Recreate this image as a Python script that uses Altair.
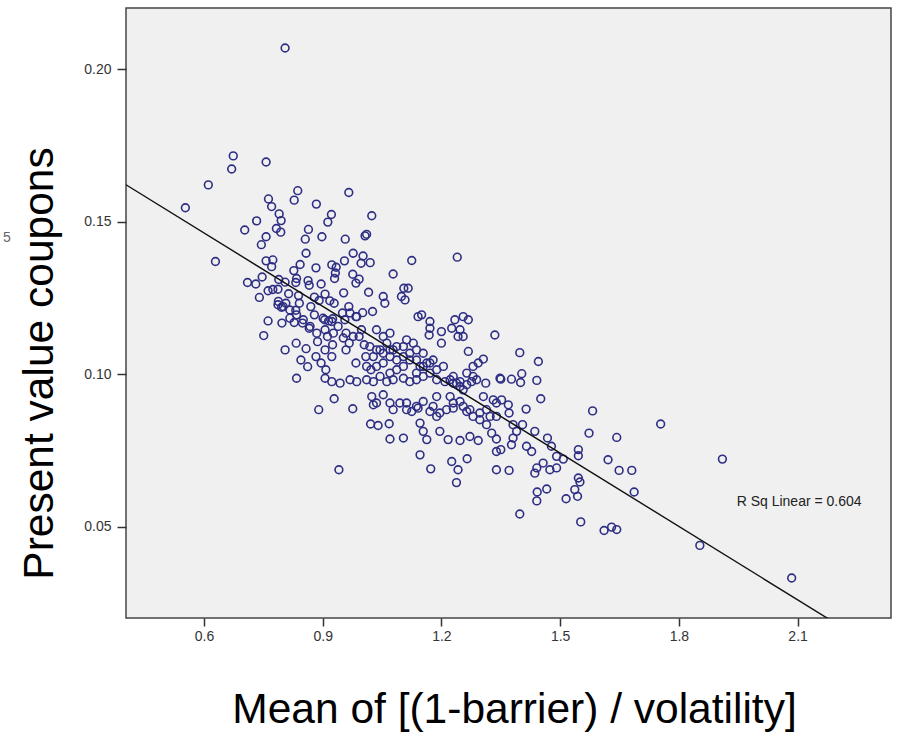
import altair as alt
import pandas as pd

# Values (x = mean of (1-barrier)/volatility, y = present value coupons)
x_vals = [
    0.805, 0.674, 0.670, 0.757, 0.611, 0.553, 0.837, 0.828, 0.763, 0.771,
    0.966, 0.884, 0.790, 0.795, 0.922, 0.913, 1.024, 0.733, 0.703, 0.783,
    0.794, 0.864, 0.856, 0.898, 0.757, 0.745, 0.957, 1.007, 1.011, 0.858,
    0.629, 0.757, 0.774, 0.771, 0.827, 0.843, 0.883, 0.923, 0.934, 0.955,
    0.977, 1.002, 0.997, 1.020, 0.747, 0.710, 0.731, 0.762, 0.774, 0.787,
    0.740, 0.789, 0.805, 0.834, 0.832, 0.863, 0.866, 0.814, 0.839, 0.896,
    0.930, 0.932, 0.976, 0.992, 0.984, 0.953, 1.016, 0.879, 0.891, 0.906,
    0.918, 0.929, 0.787, 0.796, 0.807, 0.832, 0.841, 0.870, 0.879, 0.905,
    0.915, 0.925, 0.966, 0.950, 0.984, 1.001, 1.026, 0.762, 0.751, 0.797,
    0.817, 0.828, 0.849, 0.866, 0.833, 0.858, 0.805, 0.887, 0.912, 0.925,
    0.959, 0.967, 0.992, 1.005, 0.845, 0.862, 0.883, 0.896, 0.908, 0.959,
    0.984, 1.009, 1.022, 0.834,
    1.125, 1.240, 1.078, 1.105, 1.116, 1.099, 1.108, 1.053, 1.057, 1.141,
    1.150, 1.171, 1.171, 1.169, 1.200, 1.200, 1.226, 1.234, 1.255, 1.268,
    1.247, 1.255, 1.242, 1.335, 1.268, 1.306, 1.293, 1.280, 1.312, 1.348,
    1.230, 1.238, 1.247, 1.222, 1.209, 1.255, 1.264, 1.276, 1.289,
    1.036, 1.053, 1.070, 1.062, 1.078, 1.045, 1.028, 1.011, 1.036, 1.053,
    1.070, 1.087, 1.104, 1.112, 1.129, 1.137, 1.154, 1.120, 1.104, 1.087,
    1.070, 1.045, 1.028, 1.011, 1.062, 1.078, 1.104, 1.120, 1.137, 1.154,
    1.171, 1.188, 1.205, 1.179, 1.163, 1.146, 1.137,
    0.890, 0.929, 0.976, 0.941, 1.024, 1.036, 1.053, 1.070, 1.078, 1.021,
    1.040, 1.068, 1.070, 1.104, 1.112, 1.137, 1.154, 1.146, 1.154, 1.163,
    1.196, 1.217, 1.146, 1.173, 1.226, 1.242, 1.238, 1.265, 1.247, 1.272,
    1.293, 1.179, 1.196, 1.213, 1.230, 1.255, 1.272, 1.297, 1.323, 1.339,
    1.306, 1.188, 1.222, 1.339, 1.339,
    0.906, 0.923, 0.906, 0.923, 0.944, 0.969, 0.986,
    1.398, 1.445, 1.441, 1.451, 1.414, 1.350, 1.377, 1.403, 1.400, 1.352,
    1.369, 1.371, 1.339, 1.314, 1.327, 1.339, 1.381, 1.390, 1.381, 1.377,
    1.405, 1.436, 1.415, 1.428, 1.468, 1.478, 1.491, 1.508, 1.457, 1.441,
    1.436, 1.474, 1.491, 1.546, 1.546, 1.573, 1.582, 1.643, 1.621, 1.649,
    1.681, 1.687, 1.546, 1.550, 1.537, 1.544, 1.515, 1.466, 1.442, 1.441,
    1.398, 1.552, 1.611, 1.630, 1.643, 1.350, 1.371,
    1.028, 1.095, 1.112, 1.125, 1.141, 1.171, 1.188, 1.230, 1.247, 1.264,
    1.280, 1.297, 1.314, 1.331,
    1.754, 1.910, 1.853, 2.085,
    0.901, 0.923, 0.939, 0.956, 0.969, 0.986, 0.998, 0.977, 0.952, 0.927,
    0.906, 0.885, 0.868, 0.851, 0.834, 0.817, 0.800, 0.788,
    1.019, 1.036, 1.053, 1.070, 1.087, 1.104, 1.120, 1.137, 1.154, 1.171,
    1.188, 1.230, 1.247, 1.264, 1.280,
]
y_vals = [
    0.2069, 0.1715, 0.1672, 0.1695, 0.1620, 0.1545, 0.1601, 0.1570, 0.1574, 0.1549,
    0.1595, 0.1557, 0.1525, 0.1503, 0.1523, 0.1498, 0.1519, 0.1502, 0.1472, 0.1477,
    0.1465, 0.1474, 0.1442, 0.1450, 0.1450, 0.1424, 0.1442, 0.1453, 0.1458, 0.1396,
    0.1369, 0.1371, 0.1374, 0.1352, 0.1339, 0.1359, 0.1348, 0.1358, 0.1350, 0.1371,
    0.1396, 0.1387, 0.1363, 0.1365, 0.1318, 0.1300, 0.1295, 0.1273, 0.1277, 0.1278,
    0.1251, 0.1310, 0.1301, 0.1313, 0.1300, 0.1306, 0.1291, 0.1263, 0.1257, 0.1295,
    0.1313, 0.1331, 0.1327, 0.1311, 0.1298, 0.1266, 0.1268, 0.1252, 0.1241, 0.1262,
    0.1240, 0.1232, 0.1227, 0.1219, 0.1232, 0.1209, 0.1232, 0.1221, 0.1194, 0.1178,
    0.1174, 0.1181, 0.1221, 0.1200, 0.1188, 0.1201, 0.1205, 0.1174, 0.1126, 0.1167,
    0.1183, 0.1169, 0.1167, 0.1150, 0.1101, 0.1083, 0.1079, 0.1106, 0.1123, 0.1096,
    0.1134, 0.1101, 0.1123, 0.1096, 0.1046, 0.1024, 0.1057, 0.1036, 0.1014, 0.1079,
    0.1036, 0.1057, 0.1014, 0.0986,
    0.1372, 0.1383, 0.1328, 0.1281, 0.1281, 0.1254, 0.1243, 0.1254, 0.1232, 0.1188,
    0.1194, 0.1172, 0.1150, 0.1128, 0.1139, 0.1101, 0.1150, 0.1178, 0.1188, 0.1178,
    0.1145, 0.1123, 0.1123, 0.1128, 0.1074, 0.1049, 0.1036, 0.1025, 0.0970, 0.0986,
    0.0992, 0.0970, 0.0975, 0.0981, 0.0975, 0.0948, 0.0965, 0.0975, 0.0981,
    0.1145, 0.1123, 0.1134, 0.1101, 0.1079, 0.1079, 0.1057, 0.1025, 0.1025, 0.1036,
    0.1057, 0.1046, 0.1090, 0.1112, 0.1101, 0.1079, 0.1068, 0.1046, 0.1025, 0.1014,
    0.1003, 0.0992, 0.0975, 0.0981, 0.0975, 0.0981, 0.0986, 0.0975, 0.0981, 0.0992,
    0.1003, 0.1014, 0.1025, 0.1046, 0.1036, 0.1025, 0.1003,
    0.0883, 0.0919, 0.0886, 0.0686, 0.0926, 0.0905, 0.0932, 0.0905, 0.0883, 0.0836,
    0.0831, 0.0837, 0.0787, 0.0790, 0.0883, 0.0894, 0.0910, 0.0839, 0.0812, 0.0785,
    0.0812, 0.0785, 0.0735, 0.0689, 0.0713, 0.0686, 0.0644, 0.0722, 0.0782, 0.0795,
    0.0782, 0.0894, 0.0872, 0.0883, 0.0905, 0.0894, 0.0883, 0.0872, 0.0861, 0.0905,
    0.0926, 0.0926, 0.0926, 0.0746, 0.0686,
    0.1079, 0.1057, 0.0986, 0.0975, 0.0970, 0.0981, 0.0975,
    0.1070, 0.1041, 0.0979, 0.0919, 0.0885, 0.0983, 0.0983, 0.1001, 0.0972, 0.0915,
    0.0899, 0.0872, 0.0861, 0.0834, 0.0806, 0.0787, 0.0834, 0.0812, 0.0790, 0.0768,
    0.0834, 0.0812, 0.0763, 0.0746, 0.0790, 0.0763, 0.0730, 0.0721, 0.0708, 0.0692,
    0.0675, 0.0686, 0.0692, 0.0752, 0.0732, 0.0806, 0.0879, 0.0792, 0.0719, 0.0684,
    0.0684, 0.0613, 0.0659, 0.0646, 0.0621, 0.0599, 0.0591, 0.0623, 0.0613, 0.0584,
    0.0541, 0.0515, 0.0487, 0.0498, 0.0490, 0.0752, 0.0684,
    0.0899, 0.0905, 0.0905, 0.0877, 0.0888, 0.0877, 0.0861, 0.0888, 0.0910, 0.0877,
    0.0861, 0.0850, 0.0883, 0.0915,
    0.0836, 0.0721, 0.0438, 0.0331,
    0.1183, 0.1172, 0.1156, 0.1178, 0.1200, 0.1188, 0.1145, 0.1123, 0.1118, 0.1134,
    0.1145, 0.1134, 0.1156, 0.1178, 0.1194, 0.1210, 0.1221, 0.1238,
    0.1090, 0.1079, 0.1068, 0.1079, 0.1090, 0.1057, 0.1068, 0.1046, 0.1025, 0.1036,
    0.0981, 0.0970, 0.0959, 0.1003, 0.0992,
]

x_ticks = [0.6, 0.9, 1.2, 1.5, 1.8, 2.1]
y_ticks = [0.05, 0.10, 0.15, 0.20]
x_domain = [0.403, 2.336]
y_domain = [0.02, 0.22]
r_sq_label = "R Sq Linear = 0.604"
r_sq_pos = {"x": 1.946, "y": 0.0579}
stray_label = "5"

df = pd.DataFrame({"x": x_vals, "y": y_vals})

FONT = "Liberation Sans"
POINT_COLOR = "#2e2e84"

x_enc = alt.X(
    "x:Q",
    scale=alt.Scale(domain=x_domain, nice=False, zero=False),
    axis=alt.Axis(
        values=x_ticks, format=".1f", title="Mean of [(1-barrier) / volatility]",
        grid=False, domain=False, tickSize=8, tickColor="#333333", tickWidth=1.5,
        labelFont=FONT, labelFontSize=14, labelColor="#333333", labelPadding=3,
        titleFont=FONT, titleFontSize=42.5, titleFontWeight="normal", titleColor="#000000",
        titleX=388, titleY=104, titleBaseline="alphabetic", titleAlign="center",
    ),
)
y_enc = alt.Y(
    "y:Q",
    scale=alt.Scale(domain=y_domain, nice=False, zero=False),
    axis=alt.Axis(
        values=y_ticks, format=".2f", title="Present value coupons",
        grid=False, domain=False, tickSize=9, tickColor="#333333", tickWidth=1.5,
        labelFont=FONT, labelFontSize=14, labelColor="#333333", labelPadding=6,
        titleFont=FONT, titleFontSize=42.5, titleFontWeight="normal", titleColor="#000000",
        titleX=-74, titleY=355, titleAngle=-90, titleBaseline="alphabetic", titleAlign="center",
    ),
)

points = alt.Chart(df).mark_point(
    shape="circle", filled=False, size=60, strokeWidth=1.6, color=POINT_COLOR, opacity=1
).encode(x=x_enc, y=y_enc)

fit = alt.Chart(df).transform_regression(
    "x", "y", method="linear", extent=x_domain
).mark_line(color="#111111", strokeWidth=1.4, clip=True).encode(x="x:Q", y="y:Q")

label_df = pd.DataFrame({"x": [r_sq_pos["x"]], "y": [r_sq_pos["y"]], "t": [r_sq_label]})
rsq = alt.Chart(label_df).mark_text(
    font=FONT, fontSize=14, color="#222222", align="left", baseline="middle"
).encode(x="x:Q", y="y:Q", text="t:N")

stray_df = pd.DataFrame({"t": [stray_label]})
stray = alt.Chart(stray_df).mark_text(
    font=FONT, fontSize=14, color="#666666", align="left", baseline="middle"
).encode(x=alt.value(-123), y=alt.value(230), text="t:N")

chart = alt.layer(points, fit, rsq, stray).properties(
    width=765, height=610,
    padding={"left": 126, "top": 8, "right": 7, "bottom": 115},
    autosize=alt.AutoSizeParams(type="none"),
    background="#ffffff",
).configure_view(
    fill="#f0f0f0", stroke="#444444", strokeWidth=1.5
)

chart.save("out.html", embed_options={"renderer": "svg", "actions": False})
